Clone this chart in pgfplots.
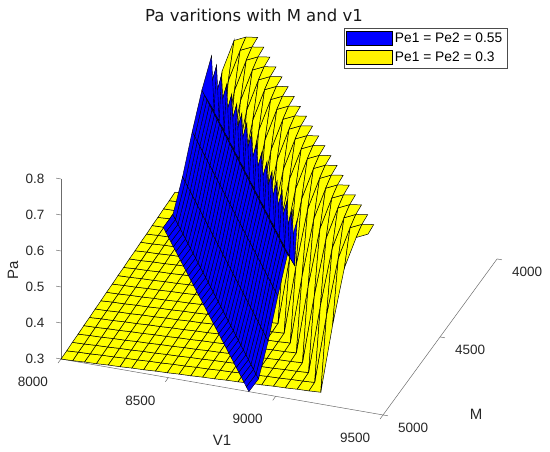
\documentclass[border=0pt]{standalone}
\usepackage{fontspec}
\setmainfont{Liberation Sans}
\newfontfamily\djv{DejaVu Sans}
\usepackage{pgfplots}
\usepackage{pgfplotstable}
\pgfplotsset{compat=1.18}
\pgfplotsset{
  colormap={yel}{rgb255=(255,255,0) rgb255=(255,255,0)},
  colormap={blu}{rgb255=(0,0,255) rgb255=(0,0,255)},
}
% Pe1 = Pe2 = 0.3 (yellow): V1 M Pa
\pgfplotstableread{
x y z
8000 4000 .330
8055 4000 .331
8110 4000 .333
8165 4000 .525
8220 4000 .690
8275 4000 .780
8330 4000 .795
8385 4000 .800
8440 4000 nan
8495 4000 nan
8550 4000 nan
8605 4000 nan
8660 4000 nan
8715 4000 nan
8770 4000 nan
8825 4000 nan
8880 4000 nan
8935 4000 nan
8990 4000 nan
9045 4000 nan
9100 4000 nan
9155 4000 nan
9210 4000 nan
9265 4000 nan
9320 4000 nan
9375 4000 nan
9430 4000 nan
9485 4000 nan
8000 4050 .328
8055 4050 .330
8110 4050 .331
8165 4050 .333
8220 4050 .525
8275 4050 .690
8330 4050 .780
8385 4050 .795
8440 4050 .800
8495 4050 nan
8550 4050 nan
8605 4050 nan
8660 4050 nan
8715 4050 nan
8770 4050 nan
8825 4050 nan
8880 4050 nan
8935 4050 nan
8990 4050 nan
9045 4050 nan
9100 4050 nan
9155 4050 nan
9210 4050 nan
9265 4050 nan
9320 4050 nan
9375 4050 nan
9430 4050 nan
9485 4050 nan
8000 4100 .327
8055 4100 .328
8110 4100 .330
8165 4100 .331
8220 4100 .333
8275 4100 .525
8330 4100 .690
8385 4100 .780
8440 4100 .795
8495 4100 .800
8550 4100 nan
8605 4100 nan
8660 4100 nan
8715 4100 nan
8770 4100 nan
8825 4100 nan
8880 4100 nan
8935 4100 nan
8990 4100 nan
9045 4100 nan
9100 4100 nan
9155 4100 nan
9210 4100 nan
9265 4100 nan
9320 4100 nan
9375 4100 nan
9430 4100 nan
9485 4100 nan
8000 4150 .325
8055 4150 .327
8110 4150 .328
8165 4150 .330
8220 4150 .331
8275 4150 .333
8330 4150 .525
8385 4150 .690
8440 4150 .780
8495 4150 .795
8550 4150 .800
8605 4150 nan
8660 4150 nan
8715 4150 nan
8770 4150 nan
8825 4150 nan
8880 4150 nan
8935 4150 nan
8990 4150 nan
9045 4150 nan
9100 4150 nan
9155 4150 nan
9210 4150 nan
9265 4150 nan
9320 4150 nan
9375 4150 nan
9430 4150 nan
9485 4150 nan
8000 4200 .324
8055 4200 .325
8110 4200 .327
8165 4200 .328
8220 4200 .330
8275 4200 .331
8330 4200 .333
8385 4200 .525
8440 4200 .690
8495 4200 .780
8550 4200 .795
8605 4200 .800
8660 4200 nan
8715 4200 nan
8770 4200 nan
8825 4200 nan
8880 4200 nan
8935 4200 nan
8990 4200 nan
9045 4200 nan
9100 4200 nan
9155 4200 nan
9210 4200 nan
9265 4200 nan
9320 4200 nan
9375 4200 nan
9430 4200 nan
9485 4200 nan
8000 4250 .322
8055 4250 .324
8110 4250 .325
8165 4250 .327
8220 4250 .328
8275 4250 .330
8330 4250 .331
8385 4250 .333
8440 4250 .525
8495 4250 .690
8550 4250 .780
8605 4250 .795
8660 4250 .800
8715 4250 nan
8770 4250 nan
8825 4250 nan
8880 4250 nan
8935 4250 nan
8990 4250 nan
9045 4250 nan
9100 4250 nan
9155 4250 nan
9210 4250 nan
9265 4250 nan
9320 4250 nan
9375 4250 nan
9430 4250 nan
9485 4250 nan
8000 4300 .321
8055 4300 .322
8110 4300 .324
8165 4300 .325
8220 4300 .327
8275 4300 .328
8330 4300 .330
8385 4300 .331
8440 4300 .333
8495 4300 .525
8550 4300 .690
8605 4300 .780
8660 4300 .795
8715 4300 .800
8770 4300 nan
8825 4300 nan
8880 4300 nan
8935 4300 nan
8990 4300 nan
9045 4300 nan
9100 4300 nan
9155 4300 nan
9210 4300 nan
9265 4300 nan
9320 4300 nan
9375 4300 nan
9430 4300 nan
9485 4300 nan
8000 4350 .319
8055 4350 .321
8110 4350 .322
8165 4350 .324
8220 4350 .325
8275 4350 .327
8330 4350 .328
8385 4350 .330
8440 4350 .331
8495 4350 .333
8550 4350 .525
8605 4350 .690
8660 4350 .780
8715 4350 .795
8770 4350 .800
8825 4350 nan
8880 4350 nan
8935 4350 nan
8990 4350 nan
9045 4350 nan
9100 4350 nan
9155 4350 nan
9210 4350 nan
9265 4350 nan
9320 4350 nan
9375 4350 nan
9430 4350 nan
9485 4350 nan
8000 4400 .318
8055 4400 .319
8110 4400 .321
8165 4400 .322
8220 4400 .324
8275 4400 .325
8330 4400 .327
8385 4400 .328
8440 4400 .330
8495 4400 .331
8550 4400 .333
8605 4400 .525
8660 4400 .690
8715 4400 .780
8770 4400 .795
8825 4400 .800
8880 4400 nan
8935 4400 nan
8990 4400 nan
9045 4400 nan
9100 4400 nan
9155 4400 nan
9210 4400 nan
9265 4400 nan
9320 4400 nan
9375 4400 nan
9430 4400 nan
9485 4400 nan
8000 4450 .316
8055 4450 .318
8110 4450 .319
8165 4450 .321
8220 4450 .322
8275 4450 .324
8330 4450 .325
8385 4450 .327
8440 4450 .328
8495 4450 .330
8550 4450 .331
8605 4450 .333
8660 4450 .525
8715 4450 .690
8770 4450 .780
8825 4450 .795
8880 4450 .800
8935 4450 nan
8990 4450 nan
9045 4450 nan
9100 4450 nan
9155 4450 nan
9210 4450 nan
9265 4450 nan
9320 4450 nan
9375 4450 nan
9430 4450 nan
9485 4450 nan
8000 4500 .315
8055 4500 .316
8110 4500 .318
8165 4500 .319
8220 4500 .321
8275 4500 .322
8330 4500 .324
8385 4500 .325
8440 4500 .327
8495 4500 .328
8550 4500 .330
8605 4500 .331
8660 4500 .333
8715 4500 .525
8770 4500 .690
8825 4500 .780
8880 4500 .795
8935 4500 .800
8990 4500 nan
9045 4500 nan
9100 4500 nan
9155 4500 nan
9210 4500 nan
9265 4500 nan
9320 4500 nan
9375 4500 nan
9430 4500 nan
9485 4500 nan
8000 4550 .313
8055 4550 .315
8110 4550 .316
8165 4550 .318
8220 4550 .319
8275 4550 .321
8330 4550 .322
8385 4550 .324
8440 4550 .325
8495 4550 .327
8550 4550 .328
8605 4550 .330
8660 4550 .331
8715 4550 .333
8770 4550 .525
8825 4550 .690
8880 4550 .780
8935 4550 .795
8990 4550 .800
9045 4550 nan
9100 4550 nan
9155 4550 nan
9210 4550 nan
9265 4550 nan
9320 4550 nan
9375 4550 nan
9430 4550 nan
9485 4550 nan
8000 4600 .312
8055 4600 .313
8110 4600 .315
8165 4600 .316
8220 4600 .318
8275 4600 .319
8330 4600 .321
8385 4600 .322
8440 4600 .324
8495 4600 .325
8550 4600 .327
8605 4600 .328
8660 4600 .330
8715 4600 .331
8770 4600 .333
8825 4600 .525
8880 4600 .690
8935 4600 .780
8990 4600 .795
9045 4600 .800
9100 4600 nan
9155 4600 nan
9210 4600 nan
9265 4600 nan
9320 4600 nan
9375 4600 nan
9430 4600 nan
9485 4600 nan
8000 4650 .310
8055 4650 .312
8110 4650 .313
8165 4650 .315
8220 4650 .316
8275 4650 .318
8330 4650 .319
8385 4650 .321
8440 4650 .322
8495 4650 .324
8550 4650 .325
8605 4650 .327
8660 4650 .328
8715 4650 .330
8770 4650 .331
8825 4650 .333
8880 4650 .525
8935 4650 .690
8990 4650 .780
9045 4650 .795
9100 4650 .800
9155 4650 nan
9210 4650 nan
9265 4650 nan
9320 4650 nan
9375 4650 nan
9430 4650 nan
9485 4650 nan
8000 4700 .309
8055 4700 .310
8110 4700 .312
8165 4700 .313
8220 4700 .315
8275 4700 .316
8330 4700 .318
8385 4700 .319
8440 4700 .321
8495 4700 .322
8550 4700 .324
8605 4700 .325
8660 4700 .327
8715 4700 .328
8770 4700 .330
8825 4700 .331
8880 4700 .333
8935 4700 .525
8990 4700 .690
9045 4700 .780
9100 4700 .795
9155 4700 .800
9210 4700 nan
9265 4700 nan
9320 4700 nan
9375 4700 nan
9430 4700 nan
9485 4700 nan
8000 4750 .307
8055 4750 .309
8110 4750 .310
8165 4750 .312
8220 4750 .313
8275 4750 .315
8330 4750 .316
8385 4750 .318
8440 4750 .319
8495 4750 .321
8550 4750 .322
8605 4750 .324
8660 4750 .325
8715 4750 .327
8770 4750 .328
8825 4750 .330
8880 4750 .331
8935 4750 .333
8990 4750 .525
9045 4750 .690
9100 4750 .780
9155 4750 .795
9210 4750 .800
9265 4750 nan
9320 4750 nan
9375 4750 nan
9430 4750 nan
9485 4750 nan
8000 4800 .306
8055 4800 .307
8110 4800 .309
8165 4800 .310
8220 4800 .312
8275 4800 .313
8330 4800 .315
8385 4800 .316
8440 4800 .318
8495 4800 .319
8550 4800 .321
8605 4800 .322
8660 4800 .324
8715 4800 .325
8770 4800 .327
8825 4800 .328
8880 4800 .330
8935 4800 .331
8990 4800 .333
9045 4800 .525
9100 4800 .690
9155 4800 .780
9210 4800 .795
9265 4800 .800
9320 4800 nan
9375 4800 nan
9430 4800 nan
9485 4800 nan
8000 4850 .304
8055 4850 .306
8110 4850 .307
8165 4850 .309
8220 4850 .310
8275 4850 .312
8330 4850 .313
8385 4850 .315
8440 4850 .316
8495 4850 .318
8550 4850 .319
8605 4850 .321
8660 4850 .322
8715 4850 .324
8770 4850 .325
8825 4850 .327
8880 4850 .328
8935 4850 .330
8990 4850 .331
9045 4850 .333
9100 4850 .525
9155 4850 .690
9210 4850 .780
9265 4850 .795
9320 4850 .800
9375 4850 nan
9430 4850 nan
9485 4850 nan
8000 4900 .303
8055 4900 .304
8110 4900 .306
8165 4900 .307
8220 4900 .309
8275 4900 .310
8330 4900 .312
8385 4900 .313
8440 4900 .315
8495 4900 .316
8550 4900 .318
8605 4900 .319
8660 4900 .321
8715 4900 .322
8770 4900 .324
8825 4900 .325
8880 4900 .327
8935 4900 .328
8990 4900 .330
9045 4900 .331
9100 4900 .333
9155 4900 .525
9210 4900 .690
9265 4900 .780
9320 4900 .795
9375 4900 .800
9430 4900 nan
9485 4900 nan
8000 4950 .301
8055 4950 .303
8110 4950 .304
8165 4950 .306
8220 4950 .307
8275 4950 .309
8330 4950 .310
8385 4950 .312
8440 4950 .313
8495 4950 .315
8550 4950 .316
8605 4950 .318
8660 4950 .319
8715 4950 .321
8770 4950 .322
8825 4950 .324
8880 4950 .325
8935 4950 .327
8990 4950 .328
9045 4950 .330
9100 4950 .331
9155 4950 .333
9210 4950 .525
9265 4950 .690
9320 4950 .780
9375 4950 .795
9430 4950 .800
9485 4950 nan
8000 5000 .300
8055 5000 .301
8110 5000 .303
8165 5000 .304
8220 5000 .306
8275 5000 .307
8330 5000 .309
8385 5000 .310
8440 5000 .312
8495 5000 .313
8550 5000 .315
8605 5000 .316
8660 5000 .318
8715 5000 .319
8770 5000 .321
8825 5000 .322
8880 5000 .324
8935 5000 .325
8990 5000 .327
9045 5000 .328
9100 5000 .330
9155 5000 .331
9210 5000 .333
9265 5000 .525
9320 5000 .690
9375 5000 .780
9430 5000 .795
9485 5000 .800
}\yellowdata
% Pe1 = Pe2 = 0.55 (blue): V1 M Pa, sampled along the rising wall
\pgfplotstableread{
x y z
8025 4150 .300
8070 4150 .340
8115 4150 .450
8160 4150 .580
8205 4150 .700
8250 4150 .800
8050 4175 .300
8095 4175 .340
8140 4175 .450
8185 4175 .580
8230 4175 .700
8275 4175 .660
8075 4200 .300
8120 4200 .340
8165 4200 .450
8210 4200 .580
8255 4200 .700
8300 4200 .800
8100 4225 .300
8145 4225 .340
8190 4225 .450
8235 4225 .580
8280 4225 .700
8325 4225 .660
8125 4250 .300
8170 4250 .340
8215 4250 .450
8260 4250 .580
8305 4250 .700
8350 4250 .800
8150 4275 .300
8195 4275 .340
8240 4275 .450
8285 4275 .580
8330 4275 .700
8375 4275 .660
8175 4300 .300
8220 4300 .340
8265 4300 .450
8310 4300 .580
8355 4300 .700
8400 4300 .800
8200 4325 .300
8245 4325 .340
8290 4325 .450
8335 4325 .580
8380 4325 .700
8425 4325 .660
8225 4350 .300
8270 4350 .340
8315 4350 .450
8360 4350 .580
8405 4350 .700
8450 4350 .800
8250 4375 .300
8295 4375 .340
8340 4375 .450
8385 4375 .580
8430 4375 .700
8475 4375 .660
8275 4400 .300
8320 4400 .340
8365 4400 .450
8410 4400 .580
8455 4400 .700
8500 4400 .800
8300 4425 .300
8345 4425 .340
8390 4425 .450
8435 4425 .580
8480 4425 .700
8525 4425 .660
8325 4450 .300
8370 4450 .340
8415 4450 .450
8460 4450 .580
8505 4450 .700
8550 4450 .800
8350 4475 .300
8395 4475 .340
8440 4475 .450
8485 4475 .580
8530 4475 .700
8575 4475 .660
8375 4500 .300
8420 4500 .340
8465 4500 .450
8510 4500 .580
8555 4500 .700
8600 4500 .800
8400 4525 .300
8445 4525 .340
8490 4525 .450
8535 4525 .580
8580 4525 .700
8625 4525 .660
8425 4550 .300
8470 4550 .340
8515 4550 .450
8560 4550 .580
8605 4550 .700
8650 4550 .800
8450 4575 .300
8495 4575 .340
8540 4575 .450
8585 4575 .580
8630 4575 .700
8675 4575 .660
8475 4600 .300
8520 4600 .340
8565 4600 .450
8610 4600 .580
8655 4600 .700
8700 4600 .800
8500 4625 .300
8545 4625 .340
8590 4625 .450
8635 4625 .580
8680 4625 .700
8725 4625 .660
8525 4650 .300
8570 4650 .340
8615 4650 .450
8660 4650 .580
8705 4650 .700
8750 4650 .800
8550 4675 .300
8595 4675 .340
8640 4675 .450
8685 4675 .580
8730 4675 .700
8775 4675 .660
8575 4700 .300
8620 4700 .340
8665 4700 .450
8710 4700 .580
8755 4700 .700
8800 4700 .800
8600 4725 .300
8645 4725 .340
8690 4725 .450
8735 4725 .580
8780 4725 .700
8825 4725 .660
8625 4750 .300
8670 4750 .340
8715 4750 .450
8760 4750 .580
8805 4750 .700
8850 4750 .800
8650 4775 .300
8695 4775 .340
8740 4775 .450
8785 4775 .580
8830 4775 .700
8875 4775 .660
8675 4800 .300
8720 4800 .340
8765 4800 .450
8810 4800 .580
8855 4800 .700
8900 4800 .800
8700 4825 .300
8745 4825 .340
8790 4825 .450
8835 4825 .580
8880 4825 .700
8925 4825 .660
8725 4850 .300
8770 4850 .340
8815 4850 .450
8860 4850 .580
8905 4850 .700
8950 4850 .800
8750 4875 .300
8795 4875 .340
8840 4875 .450
8885 4875 .580
8930 4875 .700
8975 4875 .660
8775 4900 .300
8820 4900 .340
8865 4900 .450
8910 4900 .580
8955 4900 .700
9000 4900 .800
8800 4925 .300
8845 4925 .340
8890 4925 .450
8935 4925 .580
8980 4925 .700
9025 4925 .660
8825 4950 .300
8870 4950 .340
8915 4950 .450
8960 4950 .580
9005 4950 .700
9050 4950 .800
8850 4975 .300
8895 4975 .340
8940 4975 .450
8985 4975 .580
9030 4975 .700
9075 4975 .660
8875 5000 .300
8920 5000 .340
8965 5000 .450
9010 5000 .580
9055 5000 .700
9100 5000 .800
}\bluedata
\begin{document}
\begin{tikzpicture}
\begin{axis}[
  x={(0.2147pt,-0.0373pt)}, y={(0.114pt,0.156pt)}, z={(0pt,360pt)},
  y dir=reverse,
  xmin=8000, xmax=9500, ymin=4000, ymax=5000, zmin=0.3, zmax=0.8,
  axis line style={draw=none},
  clip=false,
  xtick={8000,8500,9000,9500}, xticklabels={8000,8500,9000,9500},
  ytick={4000,4500,5000}, yticklabels={4000,4500,5000},
  ztick={0.3,0.4,0.5,0.6,0.7,0.8}, zticklabels={0.3,0.4,0.5,0.6,0.7,0.8},
  major tick length=0pt,
  tick style={draw=none},
  tick label style={font=\fontsize{13.5}{16}\selectfont, text=black!85},
  xticklabel style={anchor=center, xshift=-28pt, yshift=-23pt},
  yticklabel style={anchor=center, xshift=30pt, yshift=-13pt},
  zticklabel style={anchor=east, xshift=-13pt, yshift=0pt},
  unbounded coords=jump,
  legend style={at={(axis description cs:1.023,0.987)}, anchor=north east,
    draw=gray!60!black, line width=0.5pt, fill=white,
    font=\fontsize{13.8}{16}\selectfont, inner xsep=2pt, inner ysep=3pt,
    row sep=4.5pt, nodes={inner xsep=2.5pt, inner ysep=1pt}},
  legend cell align=left,
]
\addplot3[gray!85!black, line width=0.5pt, no marks, forget plot]
  coordinates {(8000,5000,0.3) (9500,5000,0.3) (9500,4000,0.3)};
\addplot3[gray!85!black, line width=0.5pt, no marks, forget plot]
  coordinates {(8000,5000,0.3) (8000,5000,0.8)};
% tick marks
\addplot3[gray!85!black, line width=0.5pt, no marks, forget plot]
  coordinates {(8000,5000,0.3) (8000,5026,0.3) (nan,nan,nan)
               (8500,5000,0.3) (8500,5026,0.3) (nan,nan,nan)
               (9000,5000,0.3) (9000,5026,0.3) (nan,nan,nan)
               (9500,5000,0.3) (9500,5026,0.3) (nan,nan,nan)
               (9500,4000,0.3) (9523,4000,0.3) (nan,nan,nan)
               (9500,4500,0.3) (9523,4500,0.3) (nan,nan,nan)
               (9500,5000,0.3) (9523,5000,0.3) (nan,nan,nan)
               (8000,5000,0.3) (7977,5000,0.3) (nan,nan,nan)
               (8000,5000,0.4) (7977,5000,0.4) (nan,nan,nan)
               (8000,5000,0.5) (7977,5000,0.5) (nan,nan,nan)
               (8000,5000,0.6) (7977,5000,0.6) (nan,nan,nan)
               (8000,5000,0.7) (7977,5000,0.7) (nan,nan,nan)
               (8000,5000,0.8) (7977,5000,0.8)};
\addplot3[surf, colormap name=yel, faceted color=black, line width=0.5pt,
  z buffer=sort, mesh/rows=21, forget plot] table {\yellowdata};
\addplot3[surf, colormap name=blu, faceted color=black, line width=0.4pt,
  z buffer=sort, mesh/rows=35, forget plot] table {\bluedata};
\addlegendimage{legend image code/.code={\draw[fill=blue,draw=black,line width=0.6pt] (0pt,-7pt) rectangle (46pt,7pt);}}
\addlegendentry{Pe1 = Pe2 = 0.55}
\addlegendimage{legend image code/.code={\draw[fill=yellow,draw=black,line width=0.6pt] (0pt,-7pt) rectangle (46pt,7pt);}}
\addlegendentry{Pe1 = Pe2 = 0.3}
\coordinate (C0) at (axis cs:8000,5000,0.3);
\end{axis}
\pgfresetboundingbox
\path[use as bounding box] (C0) ++(-61pt,-92pt) rectangle ++(550pt,451pt);
\begin{scope}[shift={(C0)}, shift={(-61pt,-92pt)}]
  \node[font=\djv\fontsize{16.5}{19}\selectfont, anchor=base, text=black!90] at (254pt,430pt) {Pa varitions with M and v1};
  \node[font=\fontsize{15}{18}\selectfont, text=black!85] at (222pt,11pt) {V1};
  \node[font=\fontsize{15}{18}\selectfont, text=black!85] at (476pt,37pt) {M};
  \node[font=\fontsize{15}{18}\selectfont, text=black!85, rotate=90] at (13pt,181pt) {Pa};
\end{scope}
\end{tikzpicture}
\end{document}
